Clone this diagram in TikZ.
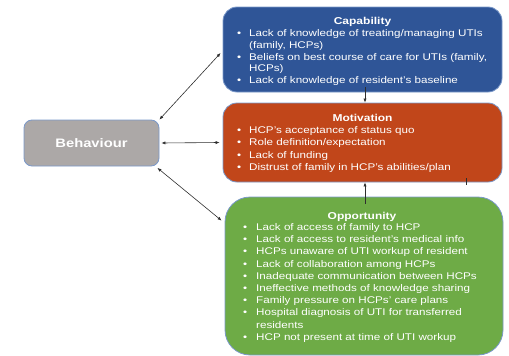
\documentclass[tikz,border=0pt]{standalone}
\usepackage{fontspec}
\setmainfont[FakeStretch=1.2]{Liberation Sans}
\usetikzlibrary{arrows.meta}

\definecolor{capblue}{HTML}{2F5597}
\definecolor{motorange}{HTML}{C1461A}
\definecolor{oppgreen}{HTML}{6EAB46}
\definecolor{behgray}{HTML}{ACA8A7}
\definecolor{boxedge}{HTML}{7A98C9}
\definecolor{linkgray}{HTML}{2E2E2E}

\newcommand{\bul}{\makebox[12pt][l]{\textbullet}}
\newcommand{\bulw}{\makebox[13pt][l]{\textbullet}}

\begin{document}
\begin{tikzpicture}[x=1pt,y=-1pt,
  box/.style={draw=boxedge, line width=0.8pt, inner sep=0pt},
  boxtitle/.style={text=white, font=\fontsize{10}{12}\selectfont\bfseries, anchor=base, inner sep=0pt},
  boxlist/.style={text=white, anchor=base west, inner sep=0pt},
  tip/.style={Latex[length=4pt,width=3.2pt]},
  link/.style={draw=linkgray, line width=0.6pt, {Latex[length=4pt,width=3.2pt]}-{Latex[length=4pt,width=3.2pt]}},
  uplink/.style={draw=linkgray, line width=0.6pt, -{Latex[length=4pt,width=3.2pt]}},
]
\useasboundingbox (0,0) rectangle (509,356);

% the three component boxes and the behaviour box
\node[box, fill=capblue, rounded corners=14pt, minimum width=279pt, minimum height=85pt] (cap) at (362.5,49.5) {};
\node[box, fill=motorange, rounded corners=14pt, minimum width=279pt, minimum height=79pt] (mot) at (362.5,142.5) {};
\node[box, fill=oppgreen, rounded corners=25pt, minimum width=278pt, minimum height=158pt] (opp) at (364,276) {};
\node[box, fill=behgray, rounded corners=8pt, minimum width=135pt, minimum height=46pt,
      text=white, font=\fontsize{12.3}{14}\selectfont\bfseries] (beh) at (91.5,143) {Behaviour};

% Capability
\node[boxtitle] (captitle) at (362.5,24) {Capability};
\node[boxlist] (caplist) at (237,36.7) {\fontsize{9.7}{11.7}\selectfont
  \begin{tabular}[t]{@{}l@{}l@{}}
  \bul & Lack of knowledge of treating/managing UTIs\\
       & (family, HCPs)\\
  \bul & Beliefs on best course of care for UTIs (family,\\
       & HCPs)\\
  \bul & Lack of knowledge of resident's baseline
  \end{tabular}};

% Motivation
\node[boxtitle] (mottitle) at (362.5,121.5) {Motivation};
\node[boxlist] (motlist) at (237,133) {\fontsize{9.7}{12.6}\selectfont
  \begin{tabular}[t]{@{}l@{}l@{}}
  \bul & HCP's acceptance of status quo\\
  \bul & Role definition/expectation\\
  \bul & Lack of funding\\
  \bul & Distrust of family in HCP's abilities/plan
  \end{tabular}};

% Opportunity
\node[boxtitle] (opptitle) at (362,219) {Opportunity};
\node[boxlist] (opplist) at (243,230.5) {\fontsize{9.7}{12.2}\selectfont
  \begin{tabular}[t]{@{}l@{}l@{}}
  \bulw & Lack of access of family to HCP\\
  \bulw & Lack of access to resident's medical info\\
  \bulw & HCPs unaware of UTI workup of resident\\
  \bulw & Lack of collaboration among HCPs\\
  \bulw & Inadequate communication between HCPs\\
  \bulw & Ineffective methods of knowledge sharing\\
  \bulw & Family pressure on HCPs' care plans\\
  \bulw & Hospital diagnosis of UTI for transferred\\
        & residents\\
  \bulw & HCP not present at time of UTI workup
  \end{tabular}};

% connectors
\coordinate (capin) at ([xshift=-2pt,yshift=-3.5pt]cap.west);
\coordinate (oppin) at ([xshift=-3pt,yshift=-24pt]opp.north west);
\draw[link] (beh.north east) -- (capin);
\draw[link] ([xshift=2pt]beh.east) -- ([xshift=-3pt]mot.west);
\draw[link] ([xshift=-2pt,yshift=-1.5pt]beh.south east) -- (oppin);
\draw[uplink] ([xshift=2.5pt,yshift=5pt]cap.south) -- ([xshift=2.5pt]mot.north);
\draw[uplink] ([xshift=1pt,yshift=-7pt]opp.north) -- ([xshift=2.5pt]mot.south);
\coordinate (ticktop) at ([xshift=103.5pt,yshift=4pt]mot.south);
\coordinate (tickbot) at ([xshift=103.5pt,yshift=-3pt]mot.south);
\draw[linkgray, line width=0.8pt] (ticktop) -- (tickbot);
\end{tikzpicture}
\end{document}
